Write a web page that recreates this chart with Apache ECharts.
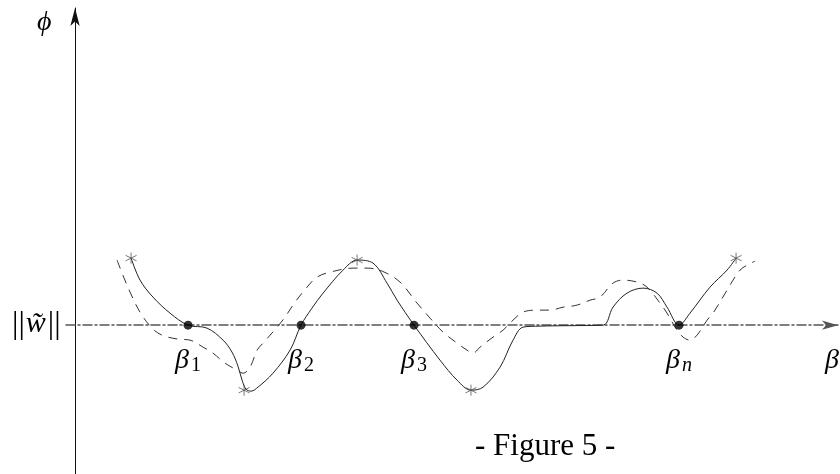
<!DOCTYPE html>
<html><head><meta charset="utf-8">
<script src="https://cdn.jsdelivr.net/npm/echarts@6/dist/echarts.min.js"></script>
<style>html,body{margin:0;padding:0;background:#fff}#c{width:840px;height:474px}</style>
</head><body><div id="c"></div>
<script>
// beta roots (x in units of beta spacing, y in units of star height)
const betaX = [1, 2, 3, 5.345];
const betaSub = ['1', '2', '3', 'n'];
// extremum markers (*)
const starX = [0.496, 1.496, 2.496, 3.504, 5.850];
const starY = [1.036, -1.005, 1.005, -1.005, 1.036];
// solid curve
const solidX = [0.496,0.575,0.690,0.841,1.000,1.168,1.310,1.389,1.442,1.478,1.513,1.558,1.619,1.752,1.903,2.000,2.097,2.195,2.372,2.496,2.637,2.761,2.850,3.000,3.230,3.381,3.504,3.611,3.761,3.876,3.965,4.115,4.381,4.673,4.761,4.885,5.027,5.150,5.239,5.345,5.442,5.619,5.770,5.850];
const solidY = [1.036,0.696,0.433,0.185,0,-0.046,-0.232,-0.417,-0.634,-0.850,-0.989,-1.020,-0.958,-0.742,-0.386,0,0.263,0.495,0.850,1.005,0.958,0.649,0.386,0,-0.541,-0.850,-1.005,-0.958,-0.649,-0.232,-0.031,-0.015,-0.008,0,0.278,0.495,0.572,0.495,0.278,0,0.185,0.587,0.850,1.036];
// dashed curve
const dashX = [0.372,0.416,0.487,0.575,0.681,0.770,0.912,1.018,1.133,1.221,1.327,1.434,1.487,1.549,1.611,1.664,1.788,1.858,1.947,2.053,2.142,2.257,2.460,2.584,2.717,2.876,3.027,3.142,3.257,3.381,3.469,3.522,3.584,3.699,3.788,3.876,3.965,4.088,4.204,4.319,4.442,4.558,4.646,4.761,4.850,4.973,5.062,5.177,5.239,5.327,5.381,5.442,5.504,5.593,5.646,5.770,5.823,5.885,5.947,6.018];
const dashY = [1.005,0.804,0.510,0.201,-0.046,-0.155,-0.216,-0.232,-0.340,-0.433,-0.587,-0.696,-0.742,-0.649,-0.386,-0.278,-0.031,0.124,0.355,0.587,0.742,0.819,0.881,0.881,0.835,0.665,0.340,0.108,-0.108,-0.278,-0.386,-0.433,-0.340,-0.185,-0.077,0.077,0.201,0.232,0.232,0.278,0.309,0.386,0.433,0.649,0.696,0.665,0.587,0.340,0.185,-0.077,-0.185,-0.232,-0.155,0.077,0.185,0.541,0.696,0.850,0.927,0.989];

const zip = (a, b) => a.map((v, i) => [v, b[i]]);
const serif = '"Liberation Serif","DejaVu Serif",serif';

const chart = echarts.init(document.getElementById('c'), null, {renderer: 'canvas'});
chart.setOption({
  animation: false,
  backgroundColor: '#fff',
  grid: {left: 66, right: 2, top: 8, bottom: 0},
  xAxis: {
    type: 'value', min: -0.08, max: 6.752,
    axisLine: {onZero: true, symbol: ['none', 'arrow'], symbolSize: [7, 16],
      lineStyle: {color: '#555', width: 1.5, type: [9, 3, 2, 3]}},
    axisTick: {show: false}, axisLabel: {show: false}, splitLine: {show: false}
  },
  yAxis: {
    type: 'value', min: -2.3, max: 4.9,
    axisLine: {onZero: true, symbol: ['none', 'arrow'], symbolSize: [7, 18],
      lineStyle: {color: '#111', width: 1}},
    axisTick: {show: false}, axisLabel: {show: false}, splitLine: {show: false}
  },
  series: [
    {type: 'line', data: zip(solidX, solidY), smooth: 0.35, showSymbol: false,
      lineStyle: {color: '#222', width: 1}, z: 3},
    {type: 'line', data: zip(dashX, dashY), smooth: 0.35, showSymbol: false,
      lineStyle: {color: '#333', width: 1, type: [9, 7]}, z: 3},
    {type: 'scatter', data: betaX.map(v => [v, 0]), symbol: 'circle', symbolSize: 9,
      itemStyle: {color: '#000'}, z: 5},
    {type: 'scatter', data: zip(starX, starY),
      symbol: 'path://M5,0L5,10M0.7,2.5L9.3,7.5M0.7,7.5L9.3,2.5', symbolSize: 11,
      itemStyle: {color: 'none', borderColor: '#555', borderWidth: 1}, z: 6}
  ]
});

const g = [];
betaX.forEach((v, i) => {
  const p = chart.convertToPixel({gridIndex: 0}, [v, 0]);
  g.push({type: 'text', left: p[0] - 13, top: p[1] + 22,
    style: {text: 'β', font: 'italic 28px ' + serif, fill: '#000'}});
  g.push({type: 'text', left: p[0] + 3, top: p[1] + 31,
    style: {text: betaSub[i], font: (betaSub[i] === 'n' ? 'italic ' : '') + '20px ' + serif, fill: '#000'}});
});
const o = chart.convertToPixel({gridIndex: 0}, [0, 0]);
g.push({type: 'text', left: 825, top: o[1] + 22, style: {text: 'β', font: 'italic 28px ' + serif, fill: '#000'}});
g.push({type: 'text', left: 37, top: 9, style: {text: 'ϕ', font: 'italic 28px ' + serif, fill: '#000'}});
g.push({type: 'text', left: 12, top: o[1] - 17, style: {
  text: '{b|||}{w|w̃}{b|||}',
  rich: {
    b: {font: '32px ' + serif, fill: '#000'},
    w: {font: 'italic 30px ' + serif, fill: '#000', padding: [0, 2, 0, 1]}
  }}});
g.push({type: 'text', left: 475, top: 431, style: {text: '- Figure 5 -', font: '31px ' + serif, fill: '#000'}});
chart.setOption({graphic: g});
</script></body></html>
